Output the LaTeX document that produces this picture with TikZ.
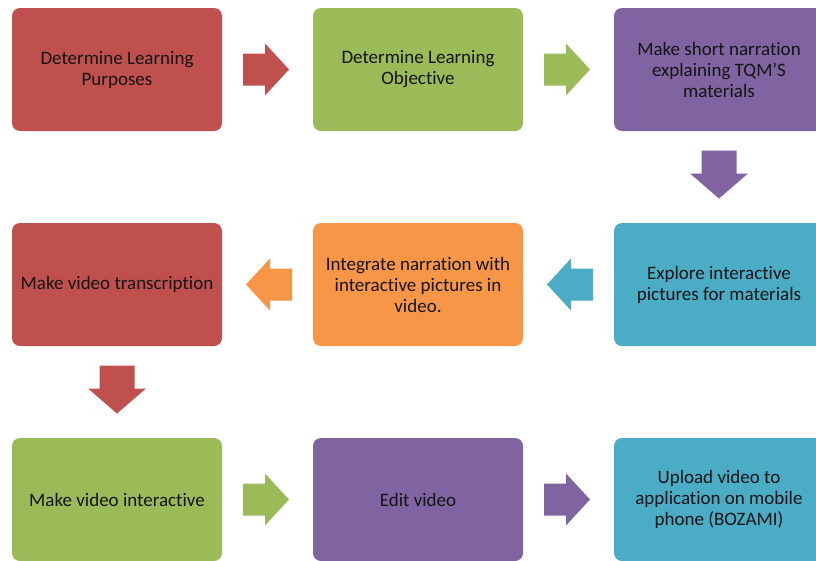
\documentclass[tikz,border=0pt]{standalone}
\usepackage{fontspec}
\setmainfont{Carlito}[Ligatures=NoCommon]
\usetikzlibrary{calc}
\definecolor{cred}{HTML}{C0504D}
\definecolor{cgreen}{HTML}{9BBB59}
\definecolor{cpurple}{HTML}{8064A2}
\definecolor{cblue}{HTML}{4BACC6}
\definecolor{corange}{HTML}{F79646}
\definecolor{ctext}{HTML}{141414}
\tikzset{
  box/.style={rectangle, rounded corners=8pt, minimum width=210pt, minimum height=123pt,
    inner sep=0pt, align=center, text=ctext,
    font=\fontsize{19pt}{21pt}\selectfont},
}
\newcommand\hblockarrow[3]{% colour, centre, rotation
  \begin{scope}[shift={#2}, rotate=#3]
    \fill[#1] (-23,-16) -- (-1,-16) -- (-1,-26) -- (23,0) -- (-1,26) -- (-1,16) -- (-23,16) -- cycle;
  \end{scope}}
\newcommand\vblockarrow[2]{% colour, centre
  \begin{scope}[shift={#2}, rotate=-90]
    \fill[#1] (-24,-17.5) -- (-1,-17.5) -- (-1,-29) -- (24,0) -- (-1,29) -- (-1,17.5) -- (-24,17.5) -- cycle;
  \end{scope}}
\begin{document}
\begin{tikzpicture}[x=1pt, y=-1pt]
  \clip (0,0) rectangle (816,560);
  \fill[white] (0,0) rectangle (816,560);
  % row 1
  \node[box, fill=cred]    (b1) at (117,69.5) {Determine Learning\\Purposes};
  \node[box, fill=cgreen]  (b2) at (418,69.5) {Determine Learning\\Objective};
  \node[box, fill=cpurple] (b3) at (719,69.5) {Make short narration\\explaining TQM'S\\materials};
  % row 2
  \node[box, fill=cblue]   (b4) at (719,284.5) {Explore interactive\\pictures for materials};
  \node[box, fill=corange] (b5) at (418,284.5) {Integrate narration with\\interactive pictures in\\video.};
  \node[box, fill=cred]    (b6) at (117,284.5) {Make video transcription};
  % row 3
  \node[box, fill=cgreen]  (b7) at (117,499.5) {Make video interactive};
  \node[box, fill=cpurple] (b8) at (418,499.5) {Edit video};
  \node[box, fill=cblue]   (b9) at (719,499.5) {Upload video to\\application on mobile\\phone (BOZAMI)};
  % block arrows
  \hblockarrow{cred}{($(b1.east)!0.5!(b2.west)+(-1.5,0)$)}{0}
  \hblockarrow{cgreen}{($(b2.east)!0.5!(b3.west)+(-1.5,0)$)}{0}
  \vblockarrow{cpurple}{($(b3.south)!0.5!(b4.north)+(0,-2.5)$)}
  \hblockarrow{cblue}{($(b4.west)!0.5!(b5.east)+(1.5,0)$)}{180}
  \hblockarrow{corange}{($(b5.west)!0.5!(b6.east)+(1.5,0)$)}{180}
  \vblockarrow{cred}{($(b6.south)!0.5!(b7.north)+(0,-2.5)$)}
  \hblockarrow{cgreen}{($(b7.east)!0.5!(b8.west)+(-1.5,0)$)}{0}
  \hblockarrow{cpurple}{($(b8.east)!0.5!(b9.west)+(-1.5,0)$)}{0}
\end{tikzpicture}
\end{document}
